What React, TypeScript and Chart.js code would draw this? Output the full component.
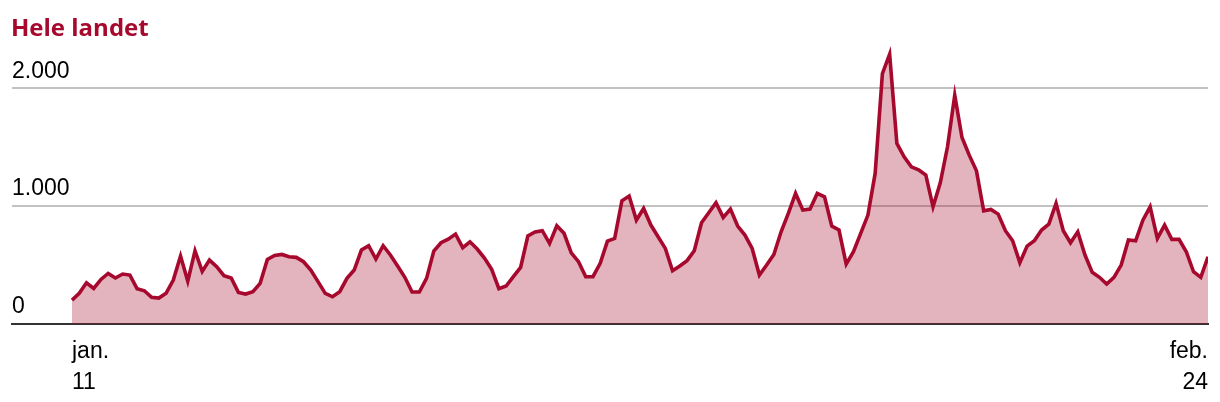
import React, { useEffect, useRef } from "react";
import { Chart, registerables } from "chart.js";

Chart.register(...registerables);

// Values (one point per sample)
const values: number[] = [
  203, 260, 350, 302, 378, 429, 390, 424, 415, 299,
  282, 226, 220, 260, 373, 576, 364, 621, 446, 542,
  486, 410, 390, 268, 254, 274, 345, 548, 582, 590,
  570, 565, 528, 458, 359, 260, 231, 274, 387, 458,
  627, 664, 551, 664, 585, 492, 396, 271, 271, 387,
  619, 689, 720, 763, 647, 697, 636, 559, 464, 299,
  322, 401, 480, 746, 780, 791, 684, 833, 769, 604,
  528, 401, 401, 514, 703, 726, 1045, 1085, 881, 980,
  839, 740, 641, 452, 492, 537, 621, 859, 944, 1028,
  904, 975, 831, 754, 641, 415, 500, 590, 782, 938,
  1107, 966, 975, 1107, 1079, 831, 797, 508, 613, 768,
  924, 1277, 2124, 2288, 1531, 1418, 1333, 1308, 1263, 994,
  1198, 1503, 1941, 1582, 1432, 1299, 960, 972, 932, 791,
  706, 520, 661, 706, 797, 847, 1023, 791, 689, 782,
  585, 438, 396, 339, 396, 500, 712, 706, 881, 994,
  726, 839, 718, 718, 613, 443, 396, 570,
];

const xTickPositions: number[] = [0, values.length - 1];
const xTickLabels: string[][] = [
  ["jan.", "11"],
  ["feb.", "24"],
];
const yTickValues: number[] = [0, 1000, 2000];
const yTickLabels: string[] = ["0", "1.000", "2.000"];

const TITLE = "Hele landet";
const LINE_COLOR = "#a6092d";
const FILL_COLOR = "rgba(166, 9, 45, 0.31)";
const TICK_FONT = "'Liberation Sans', Arial, Helvetica, sans-serif";

export default function App() {
  const ref = useRef<HTMLCanvasElement | null>(null);

  useEffect(() => {
    document.body.style.margin = "0";
    const canvas = ref.current;
    if (!canvas) return;
    const plotLeft = 12;
    const dataLeft = 72;
    const plotRight = 1208;
    const step = (plotRight - dataLeft) / (values.length - 1);

    const chart = new Chart(canvas, {
      type: "line",
      data: {
        datasets: [
          {
            data: values.map((v, i) => ({ x: i, y: v })),
            borderColor: LINE_COLOR,
            backgroundColor: FILL_COLOR,
            fill: "origin",
            borderWidth: 3.6,
            pointRadius: 0,
            tension: 0,
          },
        ],
      },
      options: {
        animation: false,
        responsive: false,
        maintainAspectRatio: false,
        layout: { padding: { left: plotLeft, right: 1220 - plotRight, top: 41, bottom: 0 } },
        plugins: {
          legend: { display: false },
          tooltip: { enabled: false },
          title: { display: false },
        },
        scales: {
          x: {
            type: "linear",
            min: -(dataLeft - plotLeft) / step,
            max: values.length - 1,
            z: 1,
            grid: { display: false, drawTicks: false },
            border: { display: true, color: "#333333", width: 2 },
            afterBuildTicks: (s: any) => {
              s.ticks = xTickPositions.map((v) => ({ value: v }));
            },
            afterFit: (s: any) => {
              s.height = 78;
            },
            ticks: {
              align: "inner",
              maxRotation: 0,
              minRotation: 0,
              autoSkip: false,
              padding: 12,
              color: "#000000",
              font: { family: TICK_FONT, size: 23, lineHeight: 31 / 23 },
              callback: (v: any) => {
                const i = xTickPositions.indexOf(Number(v));
                return i >= 0 ? xTickLabels[i] : "";
              },
            },
          },
          y: {
            type: "linear",
            min: 0,
            max: 2400,
            afterBuildTicks: (s: any) => {
              s.ticks = yTickValues.map((v) => ({ value: v }));
            },
            afterFit: (s: any) => {
              s.width = 0;
            },
            grid: { color: "#c2c2c2", lineWidth: 2, drawTicks: false },
            border: { display: false },
            ticks: {
              mirror: true,
              padding: 0,
              labelOffset: -17,
              color: "#000000",
              font: { family: TICK_FONT, size: 23 },
              callback: (v: any) => {
                const i = yTickValues.indexOf(Number(v));
                return i >= 0 ? yTickLabels[i] : "";
              },
            },
          },
        },
      } as any,
    });
    return () => chart.destroy();
  }, []);

  return (
    <div style={{ position: "relative", width: 1220, height: 402 }}>
      <div
        style={{
          position: "absolute",
          left: 11,
          top: 15,
          fontFamily: "'Open Sans', sans-serif",
          fontWeight: 700,
          fontSize: 24,
          lineHeight: "24px",
          color: LINE_COLOR,
          whiteSpace: "nowrap",
        }}
      >
        {TITLE}
      </div>
      <canvas ref={ref} width={1220} height={402} style={{ display: "block" }} />
    </div>
  );
}
